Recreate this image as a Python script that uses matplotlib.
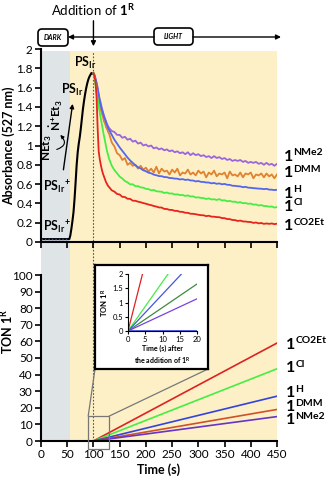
import matplotlib
matplotlib.use('Agg')
import matplotlib.pyplot as plt
from matplotlib.patches import Rectangle, FancyBboxPatch, FancyArrowPatch, ConnectionPatch

plt.rcParams['font.family'] = ['Lato', 'DejaVu Sans']
plt.rcParams['mathtext.fontset'] = 'custom'
plt.rcParams['mathtext.rm'] = 'Lato'
plt.rcParams['mathtext.bf'] = 'Lato:bold'
plt.rcParams['mathtext.it'] = 'Lato:italic'

# --- data ---
t_rise = [0, 54, 56, 58, 60, 62, 64, 66, 68, 70, 72, 74, 76, 78, 80, 82, 84, 86, 88, 90, 92, 94, 96, 98, 100]
abs_rise = [0.03, 0.03, 0.07, 0.14, 0.22, 0.31, 0.45, 0.62, 0.80, 0.93, 1.02, 1.09, 1.18, 1.28, 1.38,
            1.46, 1.53, 1.59, 1.64, 1.68, 1.71, 1.73, 1.75, 1.75, 1.74]

t_decay = [100, 102, 104, 106, 108, 110, 112, 114, 116, 118, 120, 122, 124, 126, 128] + list(range(130, 451, 5))

abs_co2et = [1.75, 1.72, 1.66, 1.50, 1.18, 0.94, 0.86, 0.80, 0.75, 0.71, 0.68, 0.65, 0.62, 0.60, 0.58,
             0.568, 0.535, 0.522, 0.498, 0.492, 0.468, 0.466, 0.448, 0.447, 0.428,
             0.427, 0.418, 0.412, 0.403, 0.397, 0.388, 0.382, 0.373, 0.367, 0.358,
             0.357, 0.343, 0.342, 0.333, 0.332, 0.323, 0.322, 0.313, 0.312, 0.303,
             0.302, 0.293, 0.292, 0.288, 0.282, 0.278, 0.277, 0.268, 0.272, 0.263,
             0.262, 0.258, 0.257, 0.248, 0.247, 0.238, 0.237, 0.228, 0.227, 0.218,
             0.222, 0.213, 0.212, 0.208, 0.207, 0.198, 0.202, 0.193, 0.197, 0.188,
             0.192, 0.188, 0.192, 0.185, 0.19]
abs_cl = [1.75, 1.70, 1.63, 1.55, 1.48, 1.41, 1.34, 1.28, 1.22, 1.16, 1.10, 1.05, 0.99, 0.94, 0.90,
          0.86, 0.79, 0.745, 0.712, 0.678, 0.658, 0.632, 0.618, 0.597, 0.598,
          0.578, 0.579, 0.566, 0.563, 0.551, 0.548, 0.536, 0.539, 0.526, 0.523,
          0.521, 0.508, 0.513, 0.502, 0.503, 0.492, 0.494, 0.486, 0.488, 0.477,
          0.483, 0.472, 0.473, 0.461, 0.463, 0.457, 0.455, 0.446, 0.452, 0.441,
          0.443, 0.436, 0.444, 0.431, 0.433, 0.422, 0.426, 0.417, 0.418, 0.408,
          0.413, 0.402, 0.404, 0.396, 0.398, 0.387, 0.389, 0.378, 0.383, 0.373,
          0.372, 0.366, 0.368, 0.357, 0.362]
abs_h = [1.75, 1.73, 1.69, 1.65, 1.60, 1.53, 1.46, 1.41, 1.37, 1.34, 1.30, 1.27, 1.24, 1.21, 1.18,
         1.16, 1.11, 1.06, 1.02, 0.98, 0.945, 0.91, 0.875, 0.845, 0.82,
         0.795, 0.775, 0.762, 0.743, 0.733, 0.718, 0.712, 0.698, 0.692, 0.683,
         0.682, 0.673, 0.672, 0.663, 0.662, 0.657, 0.656, 0.648, 0.652, 0.643,
         0.647, 0.638, 0.637, 0.628, 0.632, 0.623, 0.622, 0.617, 0.616, 0.608,
         0.612, 0.603, 0.607, 0.598, 0.602, 0.593, 0.592, 0.583, 0.582, 0.578,
         0.576, 0.568, 0.572, 0.563, 0.562, 0.558, 0.556, 0.553, 0.552, 0.548,
         0.551, 0.543, 0.542, 0.538, 0.541]
abs_dmm = [1.75, 1.71, 1.64, 1.58, 1.52, 1.47, 1.42, 1.37, 1.33, 1.30, 1.25, 1.23, 1.19, 1.17, 1.14,
           1.12, 1.03, 0.99, 0.92, 0.90, 0.85, 0.87, 0.80, 0.82, 0.79,
           0.80, 0.76, 0.79, 0.75, 0.77, 0.73, 0.76, 0.72, 0.78, 0.71,
           0.76, 0.73, 0.74, 0.70, 0.75, 0.72, 0.76, 0.69, 0.72, 0.71,
           0.75, 0.70, 0.72, 0.69, 0.74, 0.71, 0.73, 0.67, 0.72, 0.70,
           0.74, 0.68, 0.71, 0.70, 0.72, 0.66, 0.73, 0.69, 0.70, 0.68,
           0.72, 0.67, 0.71, 0.70, 0.72, 0.66, 0.70, 0.69, 0.71, 0.67,
           0.71, 0.68, 0.70, 0.66, 0.70]
abs_nme2 = [1.75, 1.73, 1.69, 1.64, 1.58, 1.53, 1.48, 1.44, 1.39, 1.35, 1.31, 1.28, 1.25, 1.22, 1.20,
            1.18, 1.15, 1.14, 1.11, 1.11, 1.08, 1.09, 1.06, 1.07, 1.04,
            1.05, 1.02, 1.03, 1.00, 1.01, 0.99, 1.00, 0.97, 0.98, 0.96,
            0.97, 0.95, 0.96, 0.94, 0.95, 0.93, 0.94, 0.92, 0.93, 0.91,
            0.93, 0.90, 0.92, 0.90, 0.91, 0.89, 0.90, 0.88, 0.89, 0.87,
            0.89, 0.87, 0.88, 0.86, 0.87, 0.85, 0.86, 0.84, 0.85, 0.84,
            0.85, 0.83, 0.84, 0.82, 0.83, 0.82, 0.83, 0.81, 0.82, 0.80,
            0.82, 0.80, 0.81, 0.79, 0.81]

# TON lines start at the addition of 1R (100 s)
ton_t = [100, 450]
ton_co2et = [0, 59]
ton_cl = [0, 43.5]
ton_h = [0, 27]
ton_dmm = [0, 19]
ton_nme2 = [0, 14.7]

# inset: first 20 s after addition
ins_red = ([0, 4.2], [0, 2])
ins_green = ([0, 11.6], [0, 2])
ins_blue = ([0, 15.5], [0, 2])
ins_dkgreen = ([0, 20], [0, 1.65])
ins_purple = ([0, 20], [0, 1.13])

W, H = 330, 482
def fx(px):
    return px / W
def fy(py):
    return 1 - py / H

fig = plt.figure(figsize=(W / 100, H / 100), dpi=100)

# background (dark / light regions)
ax_bg = fig.add_axes([fx(41), fy(441), 236 / W, 390 / H])
ax_bg.set_xlim(0, 450)
ax_bg.set_ylim(0, 1)
ax_bg.axvspan(0, 55, color='#dfe4e7', lw=0)
ax_bg.axvspan(55, 450, color='#fdf0c6', lw=0)
ax_bg.axvline(100, color='#555555', ls=(0, (1.5, 1.5)), lw=0.8)
ax_bg.axis('off')

# ---- top panel: absorbance ----
ax1 = fig.add_axes([fx(41), fy(242), 236 / W, 193 / H])
ax1.set_facecolor('none')
ax1.plot(t_rise, abs_rise, color='black', lw=1.5)
ax1.plot([0, 54], [0.03, 0.03], color='#3344dd', lw=1.0, ls=(0, (1, 1.5)))
ax1.plot(t_decay, abs_nme2, color='#9966dd', lw=1.3)
ax1.plot(t_decay, abs_dmm, color='#e0822e', lw=1.3)
ax1.plot(t_decay, abs_h, color='#5566ee', lw=1.3)
ax1.plot(t_decay, abs_cl, color='#44ee44', lw=1.3)
ax1.plot(t_decay, abs_co2et, color='#e8231b', lw=1.3)
ax1.set_xlim(0, 450)
ax1.set_ylim(0, 2)
ax1.set_yticks([0, 0.2, 0.4, 0.6, 0.8, 1, 1.2, 1.4, 1.6, 1.8, 2])
ax1.set_yticklabels(['0', '0.2', '0.4', '0.6', '0.8', '1', '1.2', '1.4', '1.6', '1.8', '2'])
ax1.set_xticks(range(0, 451, 50))
ax1.set_xticklabels([])
ax1.set_ylabel('Absorbance (527 nm)', fontsize=9, fontweight='bold')
ax1.yaxis.set_label_coords(-0.112, 0.5)

ax1.text(62, 1.86, r'$\mathbf{PS_{Ir}}$', fontsize=9, va='center')
ax1.text(38, 1.58, r'$\mathbf{PS_{Ir}}$', fontsize=9, va='center')
ax1.text(4, 0.57, r'$\mathbf{PS_{Ir}}^{\mathbf{+}}$', fontsize=9, va='center')
ax1.text(4, 0.15, r'$\mathbf{PS_{Ir}}^{\mathbf{+}}$', fontsize=9, va='center')
ax1.text(11, 0.98, r'$\mathbf{NEt_3}$', fontsize=8.5, rotation=90, ha='center', va='center')
ax1.text(29, 1.32, r'$\mathbf{\dot{N}^{+}Et_3}$', fontsize=8.5, rotation=90, ha='center', va='center')
ax1.annotate('', xy=(61, 1.46), xytext=(42, 0.72),
             arrowprops=dict(arrowstyle='-|>', color='black', lw=1.0, mutation_scale=6))
ax1.annotate('', xy=(33, 1.13), xytext=(25, 0.95),
             arrowprops=dict(arrowstyle='-|>', color='black', lw=0.8, mutation_scale=5,
                             connectionstyle='arc3,rad=0.9'))

def series_label(ax, x, y, sup):
    ax.text(x, y, '1', fontsize=11.5, fontweight='bold', va='center', ha='left', clip_on=False)
    ax.annotate(sup, xy=(x, y), xytext=(6.8, -0.5), textcoords='offset points',
                fontsize=7.5, fontweight='bold', va='bottom', ha='left', annotation_clip=False)

for yv, s in [(0.885, 'NMe2'), (0.71, 'DMM'), (0.50, 'H'), (0.365, 'Cl'), (0.165, 'CO2Et')]:
    series_label(ax1, 463, yv, s)

# ---- bottom panel: TON ----
ax2 = fig.add_axes([fx(41), fy(441), 236 / W, 166 / H])
ax2.set_facecolor('none')
ax2.plot([0, 100], [0, 0], color='#3344dd', lw=1.0, ls=(0, (1, 1.5)))
ax2.plot(ton_t, ton_co2et, color='#dd2222', lw=1.2)
ax2.plot(ton_t, ton_cl, color='#44ee44', lw=1.2)
ax2.plot(ton_t, ton_h, color='#3344dd', lw=1.2)
ax2.plot(ton_t, ton_dmm, color='#d0502a', lw=1.2)
ax2.plot(ton_t, ton_nme2, color='#6633cc', lw=1.2)
ax2.set_xlim(0, 450)
ax2.set_ylim(0, 100)
ax2.set_yticks(range(0, 101, 10))
ax2.set_xticks(range(0, 451, 50))
ax2.set_xlabel('Time (s)', fontsize=9, fontweight='bold', labelpad=2)
ax2.set_ylabel(r'$\mathbf{TON\ 1^R}$', fontsize=9)
ax2.yaxis.set_label_coords(-0.112, 0.66)

for yv, s in [(58, 'CO2Et'), (44, 'Cl'), (29, 'H'), (20.5, 'DMM'), (12.5, 'NMe2')]:
    series_label(ax2, 467, yv, s)

for ax in (ax1, ax2):
    for side in ('top', 'right'):
        ax.spines[side].set_visible(False)
    ax.spines['left'].set_linewidth(1.5)
    ax.spines['bottom'].set_linewidth(1.5)
    ax.tick_params(direction='out', length=4, width=1.2, labelsize=8.5, pad=2)

# zoom rectangle
ax2.add_patch(Rectangle((90, -5), 40, 20, fill=False, ec='#777777', lw=0.9, clip_on=False, zorder=3))

# inset frame and inset axes
ax_box = fig.add_axes([fx(95), fy(369), 113 / W, 104 / H])
ax_box.set_xticks([])
ax_box.set_yticks([])
ax_box.set_facecolor('white')
for sp in ax_box.spines.values():
    sp.set_linewidth(1.6)
ax_box.set_zorder(3)

ax_in = fig.add_axes([fx(128), fy(331), 69 / W, 57 / H])
ax_in.set_zorder(4)
ax_in.set_facecolor('none')
ax_in.plot([0, 20], [0, 0], color='#3344dd', lw=1.2)
ax_in.plot(*ins_red, color='#dd2222', lw=0.9)
ax_in.plot(*ins_green, color='#44ee44', lw=0.9)
ax_in.plot(*ins_blue, color='#4455dd', lw=0.9)
ax_in.plot(*ins_dkgreen, color='#3d8b3d', lw=0.9)
ax_in.plot(*ins_purple, color='#7744dd', lw=0.9)
ax_in.set_xlim(0, 20)
ax_in.set_ylim(0, 2)
ax_in.set_xticks([0, 5, 10, 15, 20])
ax_in.set_yticks([0, 0.5, 1, 1.5, 2])
ax_in.set_yticklabels(['0', '0.5', '1', '1.5', '2'])
ax_in.spines['top'].set_visible(False)
ax_in.spines['right'].set_visible(False)
ax_in.tick_params(direction='out', length=2, width=0.8, labelsize=5.5, pad=1.5)
ax_in.set_xlabel('Time (s) after\nthe addition of $\\mathbf{1^R}$', fontsize=5, fontweight='bold',
                 labelpad=1.5, linespacing=1.3)
ax_in.set_ylabel(r'$\mathbf{TON\ 1^R}$', fontsize=5.5, labelpad=2)

for corner_data, corner_box in (((90, 15), (0, 0)), ((130, 15), (1, 0))):
    con = ConnectionPatch(xyA=corner_data, coordsA=ax2.transData, xyB=corner_box,
                          coordsB=ax_box.transAxes, color='#777777', lw=0.9)
    fig.add_artist(con)

# ---- header: addition arrow and dark/light boxes ----
fig.text(fx(93), fy(10), r'Addition of $\mathbf{1^R}$', ha='center', va='center', fontsize=9.5)
ax1.annotate('', xy=(100, 2.0), xycoords='data', xytext=(100, fy(18)),
             textcoords=('data', 'figure fraction'),
             arrowprops=dict(arrowstyle='-|>', color='black', lw=1.0, mutation_scale=7),
             annotation_clip=False)

for (x0, x1, y0, y1, txt) in ((38, 68, 29, 46, 'DARK'), (154, 193, 28, 45, 'LIGHT')):
    box = FancyBboxPatch((fx(x0), fy(y1)), (x1 - x0) / W, (y1 - y0) / H,
                         boxstyle='round,pad=0,rounding_size=%f' % (4 / W),
                         mutation_aspect=W / H, transform=fig.transFigure,
                         fc='white', ec='black', lw=1.2)
    fig.add_artist(box)
    fig.text(fx((x0 + x1) / 2), fy((y0 + y1) / 2), txt, fontsize=5, fontweight='bold',
             style='italic', ha='center', va='center')

fig.add_artist(FancyArrowPatch((fx(154), fy(37)), (fx(68), fy(37)), transform=fig.transFigure,
                               arrowstyle='-|>', mutation_scale=7, color='black', lw=1.0,
                               shrinkA=0, shrinkB=0))
fig.add_artist(FancyArrowPatch((fx(193), fy(37)), (fx(281), fy(37)), transform=fig.transFigure,
                               arrowstyle='-|>', mutation_scale=7, color='black', lw=1.0,
                               shrinkA=0, shrinkB=0))

fig.savefig('out.png', dpi=100)
